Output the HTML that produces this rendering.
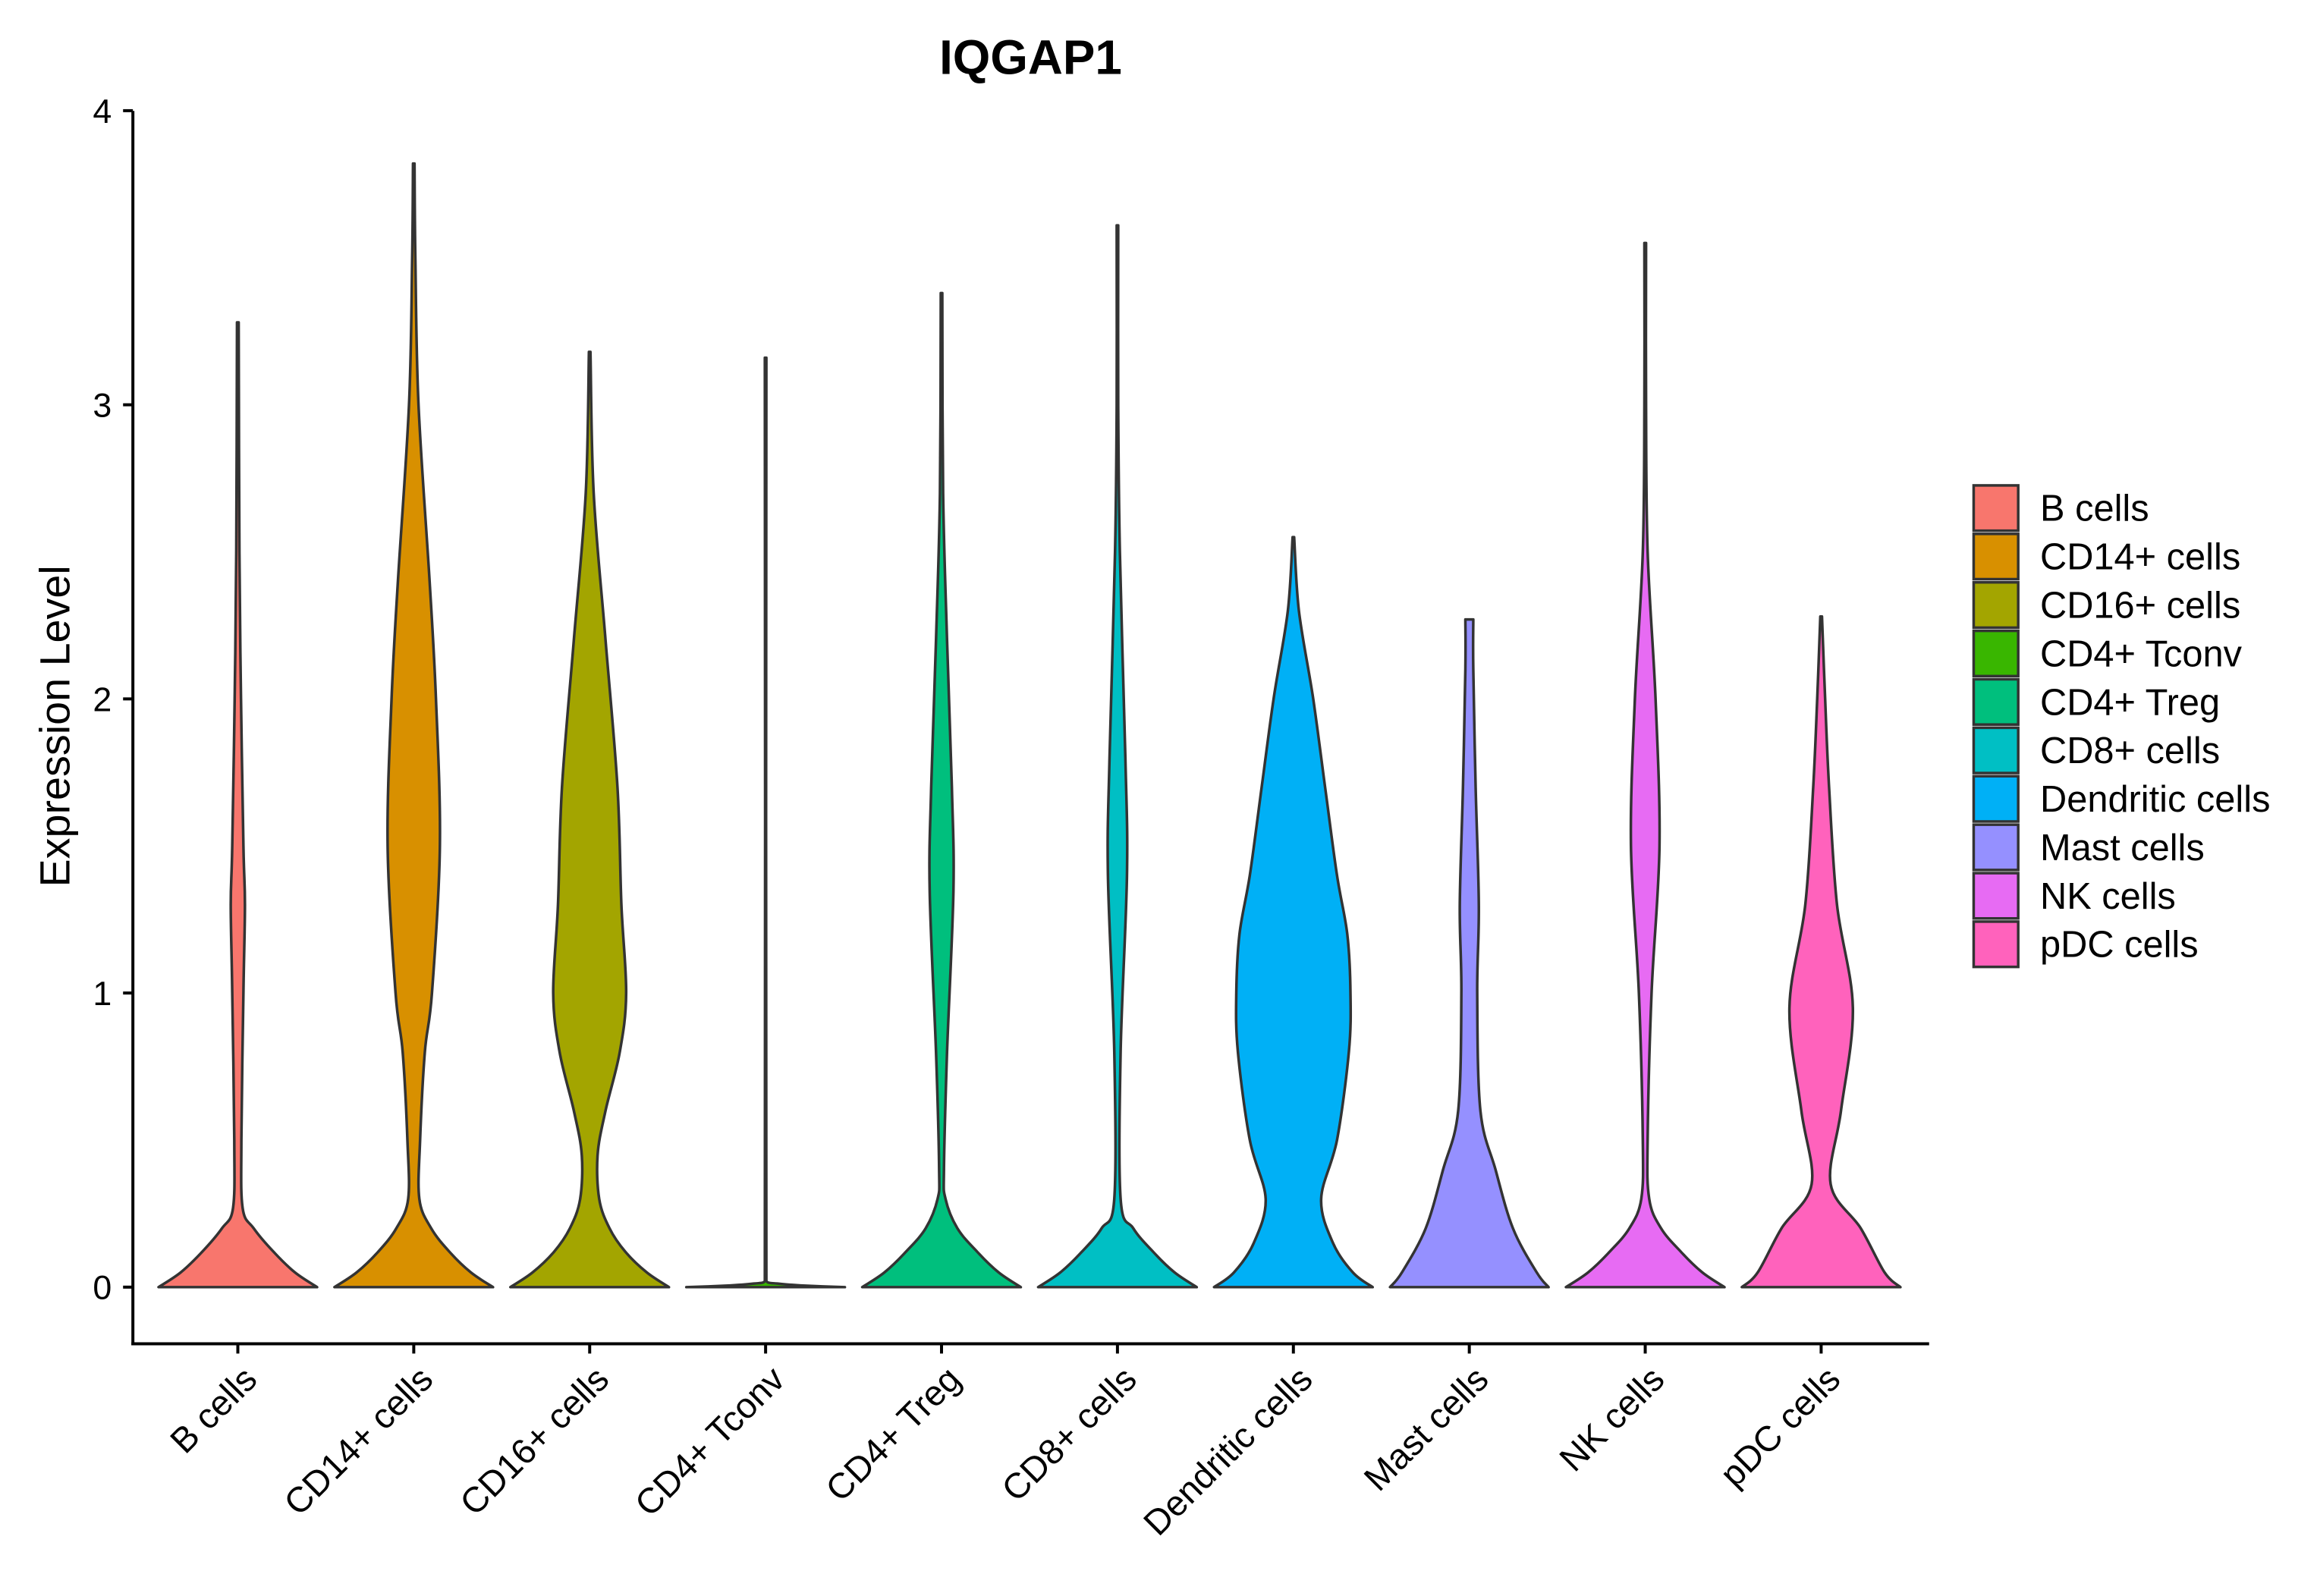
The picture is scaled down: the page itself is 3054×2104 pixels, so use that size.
<!DOCTYPE html>
<html><head><meta charset="utf-8"><style>
html,body{margin:0;padding:0;background:#fff;}
svg{display:block;font-family:"Liberation Sans",Arial,sans-serif;}
</style></head><body>
<svg id="chart" width="3054" height="2104" viewBox="0 0 3054 2104">
<g transform="scale(0.9952)">
<text x="1365" y="98" font-size="64" font-weight="bold" text-anchor="middle">IQGAP1</text>
<text transform="translate(92,962) rotate(-90)" font-size="56" text-anchor="middle">Expression Level</text>
<g id="violins"></g>
<g id="axes"></g>
<g id="legend"></g>
</g>
</svg>
<script>
const categories = ["B cells","CD14+ cells","CD16+ cells","CD4+ Tconv","CD4+ Treg","CD8+ cells","Dendritic cells","Mast cells","NK cells","pDC cells"];
const colors = ["#F8766D","#D89000","#A3A500","#39B600","#00BF7D","#00BFC4","#00B0F6","#9590FF","#E76BF3","#FF62BC"];
const yTicks = [0,1,2,3,4];
// density profiles: levels (expression) and relative half-widths
const levels = [
 [0,0.05,0.12,0.2,0.27,0.5,1.0,1.3,1.5,2.0,2.5,3.28],
 [0,0.05,0.12,0.2,0.3,0.5,0.8,1.0,1.5,2.0,2.4,3.0,3.5,3.82],
 [0,0.05,0.12,0.2,0.3,0.45,0.6,0.8,1.0,1.3,1.7,2.2,2.7,3.18],
 [0,0.005,0.012,0.02,3.16],
 [0,0.05,0.12,0.2,0.3,0.4,0.8,1.35,1.7,2.2,2.7,3.38],
 [0,0.05,0.12,0.2,0.3,0.8,1.4,1.8,2.5,3.0,3.61],
 [0,0.05,0.15,0.3,0.5,0.8,1.0,1.2,1.4,1.7,2.0,2.3,2.55],
 [0,0.05,0.2,0.4,0.6,1.0,1.3,1.7,2.1,2.27],
 [0,0.05,0.12,0.2,0.3,0.5,1.0,1.5,2.0,2.5,3.0,3.55],
 [0,0.05,0.2,0.35,0.6,0.95,1.3,1.7,2.0,2.28]
];
const widths = [
 [1,0.72,0.45,0.2,0.06,0.045,0.07,0.09,0.07,0.04,0.02,0.01],
 [1,0.72,0.45,0.22,0.07,0.08,0.14,0.23,0.33,0.28,0.2,0.06,0.02,0.01],
 [1,0.72,0.45,0.25,0.12,0.1,0.2,0.38,0.46,0.4,0.35,0.2,0.05,0.01],
 [1,0.5,0.15,0.01,0.01],
 [1,0.72,0.45,0.2,0.05,0.03,0.07,0.15,0.13,0.07,0.02,0.01],
 [1,0.72,0.45,0.2,0.04,0.04,0.12,0.1,0.03,0.01,0.01],
 [1,0.75,0.5,0.35,0.55,0.7,0.72,0.68,0.55,0.4,0.25,0.07,0.01],
 [1,0.85,0.55,0.33,0.14,0.1,0.12,0.08,0.05,0.05],
 [1,0.72,0.45,0.2,0.05,0.03,0.08,0.18,0.13,0.03,0.01,0.01],
 [1,0.8,0.5,0.12,0.25,0.4,0.2,0.1,0.05,0.01]
];
const NS="http://www.w3.org/2000/svg";
const X0=315, DX=233, HW=105, Y0=1705, UNIT=389.6;
const xPos = i => X0 + i*DX;
const yPos = v => Y0 - v*UNIT;
const clamp=(v,a,b)=>Math.min(Math.max(v,Math.min(a,b)),Math.max(a,b));
// catmull-rom in data space (level, width) with clamped controls; sign = +1 right, -1 left
function smooth(L,W,cx,sign,reverse){
  const idx=[...L.keys()]; if(reverse) idx.reverse();
  const P=idx.map(k=>[L[k],W[k]]);
  const toXY=p=>(cx+sign*Math.max(p[1],0)*HW).toFixed(1)+','+yPos(p[0]).toFixed(1);
  let d='';
  for(let i=0;i<P.length-1;i++){
    const p0=P[Math.max(i-1,0)],p1=P[i],p2=P[i+1],p3=P[Math.min(i+2,P.length-1)];
    const c1=[clamp(p1[0]+(p2[0]-p0[0])/6,p1[0],p2[0]),Math.max(p1[1]+(p2[1]-p0[1])/6,0)];
    const c2=[clamp(p2[0]-(p3[0]-p1[0])/6,p1[0],p2[0]),Math.max(p2[1]-(p3[1]-p1[1])/6,0)];
    d+=' C'+toXY(c1)+' '+toXY(c2)+' '+toXY(p2);
  }
  return {start:toXY(P[0]),d};
}
const vg=document.getElementById('violins');
categories.forEach((c,i)=>{
  const L=levels[i], W=widths[i], cx=xPos(i);
  const r=smooth(L,W,cx,1,false), l=smooth(L,W,cx,-1,true);
  const d='M'+r.start+r.d+' L'+l.start+l.d+' Z';
  const p=document.createElementNS(NS,'path');
  p.setAttribute('d',d);
  p.setAttribute('fill',colors[i]);
  p.setAttribute('stroke','#333');
  p.setAttribute('stroke-width','3.5');
  p.setAttribute('stroke-linejoin','round');
  
  
  vg.appendChild(p);
});
const ag=document.getElementById('axes');
function line(x1,y1,x2,y2,name){const l=document.createElementNS(NS,'line');
 l.setAttribute('x1',x1);l.setAttribute('y1',y1);l.setAttribute('x2',x2);l.setAttribute('y2',y2);
 l.setAttribute('stroke','#000');l.setAttribute('stroke-width','4');
 
 
 ag.appendChild(l);}
line(176,147,176,1782,'y-axis-line');
line(174,1780,2555,1780,'x-axis-line');
yTicks.forEach(t=>{
  line(163,yPos(t),176,yPos(t),'y-tick');
  const tx=document.createElementNS(NS,'text');
  tx.setAttribute('x',148);tx.setAttribute('y',yPos(t)+16);
  tx.setAttribute('font-size','45');tx.setAttribute('text-anchor','end');
  tx.textContent=t;
  
  
  ag.appendChild(tx);
});
categories.forEach((c,i)=>{
  const x=xPos(i);
  line(x,1780,x,1793,'x-tick');
  const tx=document.createElementNS(NS,'text');
  tx.setAttribute('transform','translate('+(x+28)+',1830) rotate(-45)');
  tx.setAttribute('font-size','47');tx.setAttribute('text-anchor','end');
  tx.textContent=c;
  
  
  ag.appendChild(tx);
});
const lg=document.getElementById('legend');
categories.forEach((c,i)=>{
  const y=643+i*64.2;
  const r=document.createElementNS(NS,'rect');
  r.setAttribute('x',2614);r.setAttribute('y',y);r.setAttribute('width',59);r.setAttribute('height',60);
  r.setAttribute('fill',colors[i]);r.setAttribute('stroke','#333');r.setAttribute('stroke-width','3.5');
  
  
  lg.appendChild(r);
  const t=document.createElementNS(NS,'text');
  t.setAttribute('x',2702);t.setAttribute('y',y+47);t.setAttribute('font-size','49');
  t.textContent=c;
  
  
  lg.appendChild(t);
});
</script>
</body></html>
